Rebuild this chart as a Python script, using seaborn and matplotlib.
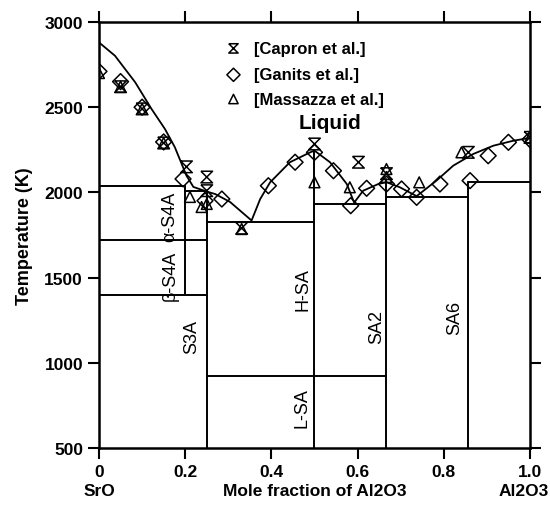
import numpy as np
import pandas as pd
import matplotlib
matplotlib.use("Agg")
import matplotlib.pyplot as plt
import seaborn as sns

# liquidus curve
liq_x = [0.0, 0.037, 0.084, 0.122, 0.153, 0.176, 0.203, 0.219, 0.25, 0.27, 0.304, 0.354,
         0.374, 0.397, 0.443, 0.49, 0.5, 0.536, 0.575, 0.592,
         0.613, 0.648, 0.667, 0.698, 0.737,
         0.783, 0.822, 0.868, 0.915, 0.961, 1.0]
liq_T = [2880, 2802, 2646, 2489, 2372, 2265, 2098, 2032, 2005, 1990, 1944, 1835,
         1961, 2059, 2177, 2235, 2245, 2177, 2049, 1940,
         2010, 2049, 2060, 2030, 1978,
         2069, 2157, 2225, 2274, 2303, 2320]

# experimental data
capron_x = [0.05, 0.10, 0.15, 0.203, 0.25, 0.25, 0.331, 0.5, 0.602, 0.667, 0.857, 1.0]
capron_T = [2620, 2490, 2290, 2150, 2090, 2010, 1790, 2284, 2177, 2110, 2235, 2323]

ganits_x = [0.0, 0.05, 0.10, 0.15, 0.195, 0.246, 0.285, 0.393, 0.455, 0.5, 0.544, 0.584,
            0.621, 0.667, 0.702, 0.737, 0.791, 0.861, 0.903, 0.95, 1.0]
ganits_T = [2710, 2650, 2500, 2296, 2079, 1951, 1961, 2039, 2177, 2235, 2127, 1922,
            2024, 2049, 2020, 1971, 2049, 2069, 2215, 2294, 2310]

massazza_x = [0.0, 0.05, 0.10, 0.15, 0.211, 0.238, 0.25, 0.331, 0.5, 0.582, 0.667, 0.667,
              0.743, 0.841, 1.0]
massazza_T = [2700, 2620, 2490, 2290, 1973, 1914, 1932, 1785, 2059, 2030, 2137, 2090,
              2059, 2235, 2323]

# phase boundaries: (x0, x1, T) horizontals, (x, T0, T1) verticals
h_lines = [(0.0, 0.2, 2040), (0.2, 0.25, 2010), (0.0, 0.25, 1720), (0.0, 0.25, 1400),
           (0.25, 0.5, 1826), (0.25, 0.667, 925), (0.5, 0.667, 1934),
           (0.667, 0.857, 1975), (0.857, 1.0, 2063)]
v_lines = [(0.2, 1400, 2040), (0.25, 500, 2010), (0.5, 500, 2245),
           (0.667, 500, 2080), (0.857, 500, 2063)]

phase_labels = ["α-S4A", "β-S4A", "S3A", "H-SA", "L-SA", "SA2", "SA6"]
phase_x = [0.165, 0.165, 0.216, 0.474, 0.47, 0.644, 0.826]
phase_T = [1865, 1515, 1160, 1433, 739, 1218, 1267]

sns.set_style("ticks")
plt.rcParams['font.family'] = ['Liberation Sans', 'DejaVu Sans']
plt.rcParams['text.color'] = 'black'
plt.rcParams['axes.edgecolor'] = 'black'
plt.rcParams['xtick.color'] = 'black'
plt.rcParams['ytick.color'] = 'black'
plt.rcParams['axes.labelcolor'] = 'black'

fig = plt.figure(figsize=(5.5, 5.06), dpi=100)
ax = fig.add_axes([0.18, 0.1126, 0.7836, 0.842])

for x0, x1, t in h_lines:
    ax.plot([x0, x1], [t, t], color='black', lw=1.4)
for x, t0, t1 in v_lines:
    ax.plot([x, x], [t0, t1], color='black', lw=1.4)

liq = pd.DataFrame({'x': liq_x, 'T': liq_T})
sns.lineplot(data=liq, x='x', y='T', sort=False, color='black', lw=1.3, ax=ax)

hourglass = [(-1, 1), (1, 1), (-1, -1), (1, -1), (-1, 1)]
sns.scatterplot(x=capron_x, y=capron_T, marker=hourglass, s=70, facecolor='none',
                edgecolor='black', linewidth=1.1, ax=ax, zorder=5)
sns.scatterplot(x=ganits_x, y=ganits_T, marker='D', s=65, facecolor='none',
                edgecolor='black', linewidth=1.1, ax=ax, zorder=5)
sns.scatterplot(x=massazza_x, y=massazza_T, marker='^', s=60, facecolor='none',
                edgecolor='black', linewidth=1.1, ax=ax, zorder=5)

# legend drawn as text in data coordinates
leg_y = [2845, 2690, 2548]
leg_markers = [hourglass, 'D', '^']
leg_text = ['[Capron et al.]', '[Ganits et al.]', '[Massazza et al.]']
for y, m, t in zip(leg_y, leg_markers, leg_text):
    ax.scatter([0.312], [y], marker=m, s=45, facecolor='none', edgecolor='black', linewidth=1.1)
    ax.text(0.36, y, t, fontsize=12, fontweight='bold', va='center', ha='left')
ax.text(0.535, 2410, 'Liquid', fontsize=15, fontweight='bold', ha='center', va='center')

for lab, x, t in zip(phase_labels, phase_x, phase_T):
    ax.text(x, t, lab, rotation=90, fontsize=13, ha='center', va='center')

ax.set_xlim(0, 1.0)
ax.set_ylim(500, 3000)
ax.set_xticks([0, 0.2, 0.4, 0.6, 0.8, 1.0])
ax.set_xticklabels(['0', '0.2', '0.4', '0.6', '0.8', '1.0'])
ax.set_yticks([500, 1000, 1500, 2000, 2500, 3000])
ax.tick_params(direction='out', length=8, width=1.5, labelsize=12.5,
               top=True, right=True, labeltop=False, labelright=False)
for lbl in ax.get_xticklabels() + ax.get_yticklabels():
    lbl.set_fontweight('bold')
for sp in ax.spines.values():
    sp.set_visible(True)
    sp.set_linewidth(1.8)

ax.set_xlabel('')
ax.set_ylabel('Temperature (K)', fontsize=13, fontweight='bold', labelpad=8)
fig.text(0.18, 0.028, 'SrO', fontsize=12.5, fontweight='bold', ha='center', va='center')
fig.text(0.573, 0.028, 'Mole fraction of Al2O3', fontsize=12.5, fontweight='bold', ha='center', va='center')
fig.text(0.997, 0.028, 'Al2O3', fontsize=12.5, fontweight='bold', ha='right', va='center')

fig.savefig('out.png', dpi=100)
